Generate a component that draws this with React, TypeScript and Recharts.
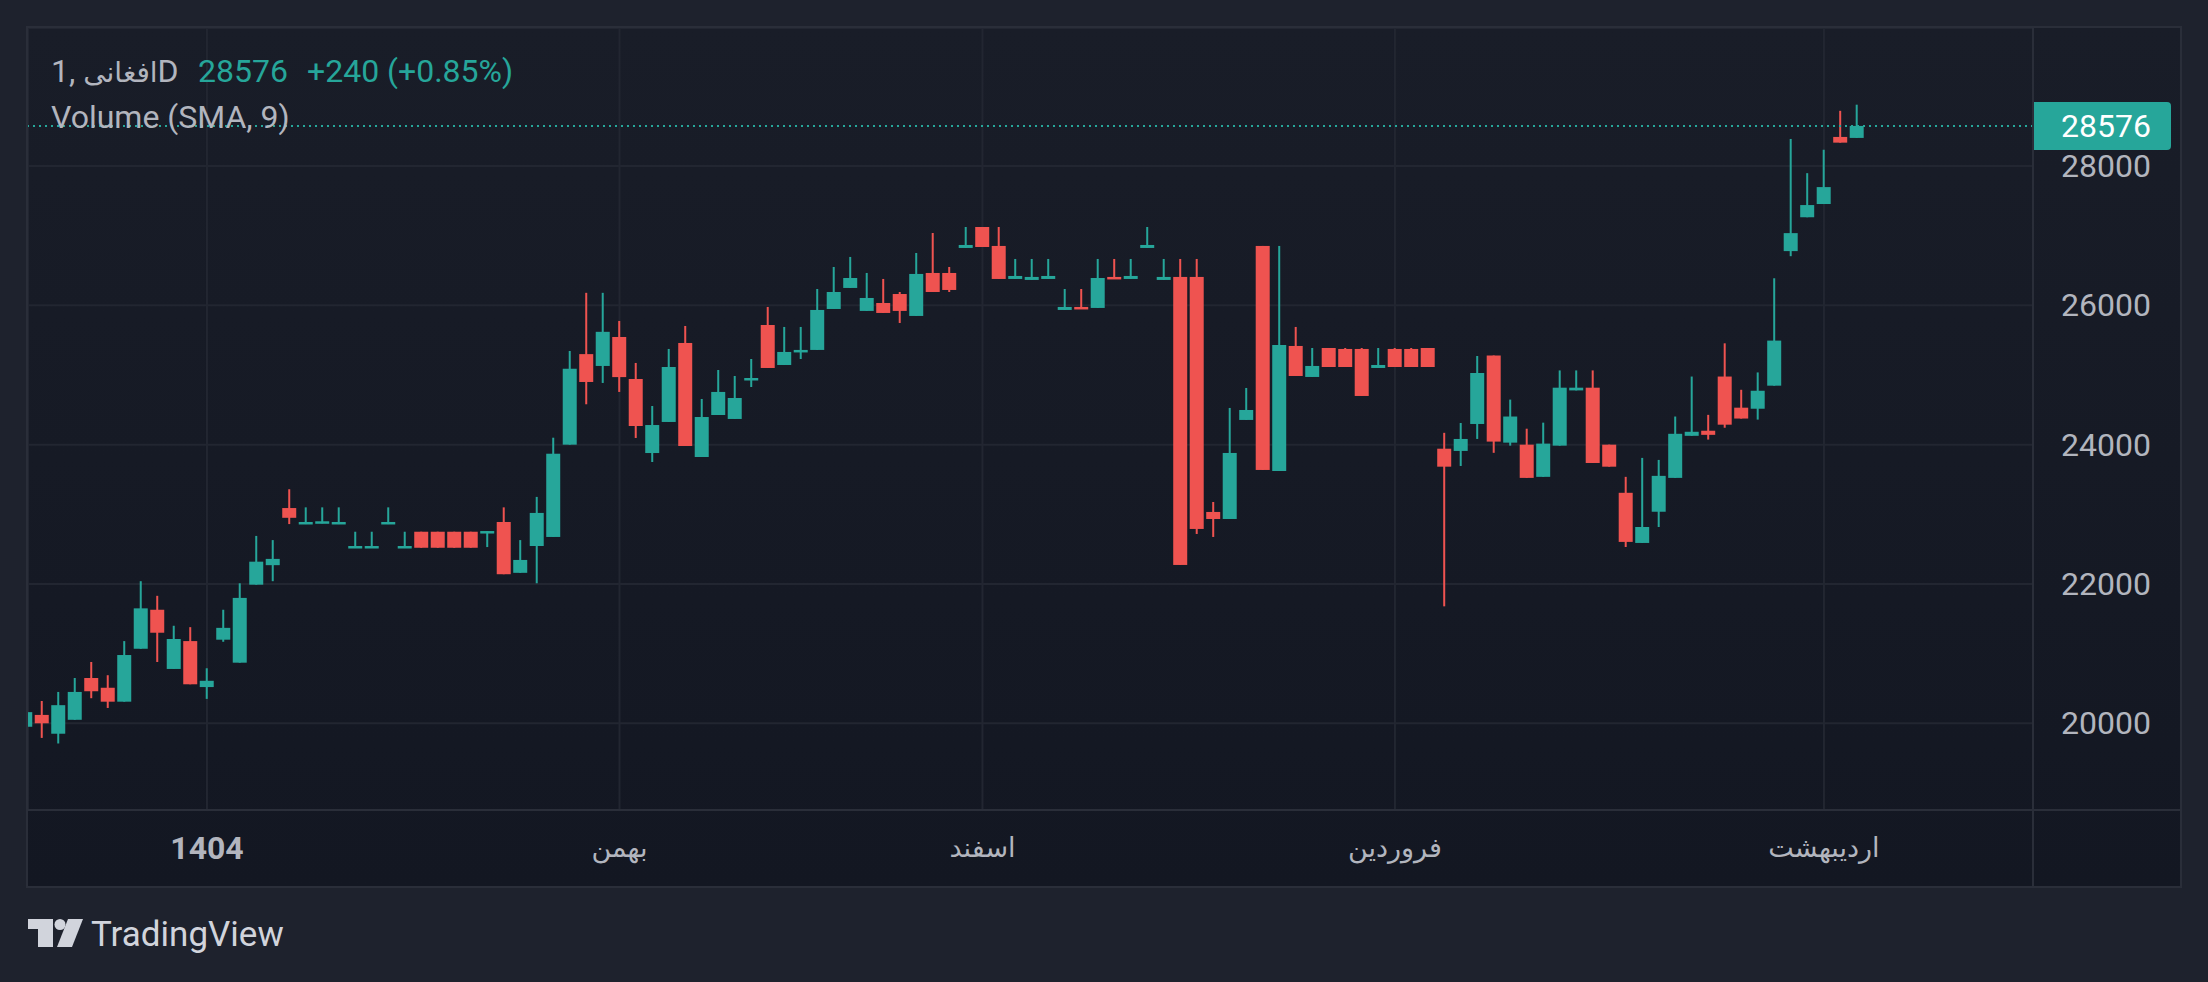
import React from "react";
import {
  ComposedChart,
  Bar,
  XAxis,
  YAxis,
  CartesianGrid,
  ReferenceLine,
} from "recharts";

// daily candles
const opens = [
  19950, 20120, 19850, 20050, 20650, 20510, 20310, 21070, 21630, 20780,
  21180, 20520, 21200, 20870, 21990, 22270, 23090, 22860, 22870, 22860,
  22520, 22520, 22860, 22520, 22750, 22750, 22750, 22750, 22735, 22890,
  22160, 22545, 22675, 24000, 25300, 25130, 25546, 24943, 23880, 24326,
  25460, 23823, 24426, 24369, 24928, 25718, 25144, 25331, 25360, 25948,
  26250, 25920, 26034, 26163, 25848, 26465, 26465, 26824, 27125, 26853,
  26379, 26365, 26379, 25934, 25977, 25963, 26408, 26379, 26824, 26365,
  26408, 26408, 23034, 22933, 24355, 26853, 23622, 25417, 24972, 25388,
  25374, 25374, 25101, 25374, 25374, 25388, 23942, 23910, 24297, 25280,
  24029, 24000, 23538, 23986, 24779, 24818, 24000, 23309, 22589, 23037,
  23523, 24127, 24200, 24978, 24531, 24516, 24847, 26779, 27265, 27455,
  28418, 28404,
];
const highs = [
  20170, 20320, 20450, 20650, 20880, 20690, 21180, 22040, 21830, 21400,
  21380, 20790, 21630, 22010, 22690, 22630, 23360, 23100, 23100, 23100,
  22750, 22750, 23100, 22750, 22750, 22750, 22750, 22750, 22760, 23100,
  22630, 23250, 24100, 25345, 26180, 26180, 25776, 25173, 24555, 25374,
  25704, 24656, 25072, 24986, 25230, 25977, 25690, 25690, 26235, 26551,
  26695, 26465, 26379, 26192, 26752, 27039, 26551, 27125, 27125, 27125,
  26666, 26666, 26666, 26235, 26235, 26666, 26666, 26666, 27125, 26666,
  26666, 26666, 23177, 24527, 24814, 26853, 26853, 25690, 25388, 25388,
  25388, 25388, 25388, 25388, 25388, 25388, 24170, 24311, 25273, 25280,
  24647, 24229, 24316, 25066, 25066, 25066, 24000, 23538, 23810, 23781,
  24404, 24978, 24428, 25455, 24788, 25037, 26389, 28389, 27898, 28234,
  28793, 28881,
];
const lows = [
  19940, 19790, 19710, 20050, 20360, 20220, 20310, 21070, 20880, 20780,
  20560, 20350, 21170, 20870, 21990, 22040, 22860, 22860, 22870, 22860,
  22520, 22520, 22860, 22520, 22520, 22520, 22520, 22520, 22530, 22140,
  22160, 22010, 22675, 24000, 24580, 24886, 24757, 24096, 23751, 24326,
  23981, 23823, 24426, 24369, 24828, 25101, 25144, 25230, 25360, 25948,
  26250, 25920, 25891, 25747, 25848, 26192, 26192, 26824, 26838, 26379,
  26379, 26365, 26379, 25934, 25950, 25963, 26380, 26379, 26824, 26365,
  22273, 22718, 22675, 22933, 24355, 23637, 23622, 24986, 24972, 25115,
  25115, 24699, 25101, 25115, 25115, 25115, 21679, 23694, 24082, 23883,
  23986, 23523, 23538, 23986, 24779, 23737, 23684, 22531, 22589, 22818,
  23523, 24127, 24073, 24243, 24375, 24360, 24847, 26706, 27265, 27455,
  28336, 28404,
];
const closes = [
  20160, 20000, 20260, 20450, 20460, 20310, 20980, 21650, 21300, 21210,
  20560, 20610, 21370, 21800, 22320, 22360, 22950, 22890, 22900, 22890,
  22545, 22545, 22890, 22545, 22520, 22520, 22520, 22520, 22760, 22140,
  22345, 23020, 23870, 25090, 24900, 25620, 24970, 24268, 24282, 25115,
  23981, 24397, 24757, 24670, 24957, 25101, 25331, 25360, 25934, 26192,
  26393, 26106, 25891, 25920, 26451, 26192, 26221, 26867, 26838, 26379,
  26422, 26408, 26422, 25977, 25950, 26393, 26380, 26422, 26867, 26408,
  22273, 22790, 22933, 23881, 24498, 23637, 25431, 24986, 25130, 25115,
  25115, 24699, 25144, 25115, 25115, 25115, 23684, 24082, 25029, 24044,
  24404, 23523, 24015, 24818, 24818, 23737, 23684, 22604, 22818, 23552,
  24156, 24185, 24141, 24287, 24375, 24774, 25494, 27037, 27440, 27698,
  28336, 28576,
];

const monthTicks = [11, 36, 58, 83, 109];
const monthLabels = ["1404", "بهمن", "اسفند", "فروردین", "اردیبهشت"];
const priceTicks = [20000, 22000, 24000, 26000, 28000];
const lastPrice = 28576;
const change = "+240 (+0.85%)";

const UP = "#26a69a";
const DOWN = "#ef5350";
const TEXT = "#b2b5be";
const GRID = "#222631";
const LINE = "#2a2e39";
const FONT = "Roboto, 'DejaVu Sans', sans-serif";

const data = opens.map((o, i) => ({
  i,
  open: o,
  high: highs[i],
  low: lows[i],
  close: closes[i],
}));

const Candle = (props: any) => {
  const { x, y, width, height, payload } = props;
  if (!payload) return null;
  const { open, close, high, low } = payload;
  const top = Math.min(y, y + height);
  const h = Math.abs(height);
  const ppu = h / (high - low);
  const cx = x + width / 2;
  const color = close >= open ? UP : DOWN;
  const bodyTop = top + (high - Math.max(open, close)) * ppu;
  const bodyH = Math.max(Math.abs(open - close) * ppu, 2.5);
  return (
    <g>
      <rect x={cx - 1} y={top} width={2} height={h} fill={color} />
      <rect x={cx - 7} y={bodyTop} width={14} height={bodyH} fill={color} />
    </g>
  );
};

const TimeTick = (props: any) => {
  const { x, y, payload } = props;
  const k = monthTicks.indexOf(payload.value);
  return (
    <text
      x={x}
      y={y + 38}
      textAnchor="middle"
      dominantBaseline="central"
      fill={TEXT}
      fontSize={k === 0 ? 32 : 27}
      fontWeight={k === 0 ? 700 : 400}
      fontFamily={FONT}
    >
      {monthLabels[k]}
    </text>
  );
};

const PriceTick = (props: any) => {
  const { x, y, payload } = props;
  return (
    <text
      x={x + 28}
      y={y}
      textAnchor="start"
      dominantBaseline="central"
      fill={TEXT}
      fontSize={32}
      fontFamily={FONT}
    >
      {payload.value}
    </text>
  );
};

const PriceTag = (props: any) => {
  const vb = props.viewBox || {};
  const left = vb.x + vb.width;
  const cy = vb.y;
  const r = 4;
  const w = 138;
  const d = `M${left},${cy - 24} H${left + w - r} Q${left + w},${cy - 24} ${left + w},${cy - 24 + r} V${cy + 24 - r} Q${left + w},${cy + 24} ${left + w - r},${cy + 24} H${left} Z`;
  return (
    <g>
      <path d={d} fill={UP} />
      <text
        x={left + 28}
        y={cy}
        dominantBaseline="central"
        fill="#ffffff"
        fontSize={32}
        fontFamily={FONT}
      >
        {lastPrice}
      </text>
    </g>
  );
};

const App = () => {
  return (
    <div
      style={{
        position: "absolute",
        left: 0,
        top: 0,
        width: 2208,
        height: 982,
        background: "#1e222d",
        overflow: "hidden",
        fontFamily: FONT,
      }}
    >
      <div
        style={{
          position: "absolute",
          left: 26,
          top: 26,
          width: 2156,
          height: 862,
          boxSizing: "border-box",
          border: `2px solid ${LINE}`,
          background: "linear-gradient(#191d28, #131722)",
        }}
      >
        <ComposedChart
          width={2152}
          height={858}
          data={data}
          margin={{ top: 0, right: 0, bottom: 0, left: 0 }}
        >
          <CartesianGrid stroke={GRID} strokeWidth={2} />
          <XAxis
            dataKey="i"
            type="number"
            domain={[0.152, 121.67]}
            allowDataOverflow
            ticks={monthTicks}
            interval={0}
            height={76}
            tickLine={false}
            axisLine={false}
            tickSize={0}
            tickMargin={0}
            tick={<TimeTick />}
          />
          <YAxis
            orientation="right"
            type="number"
            domain={[18755, 29982]}
            allowDataOverflow
            ticks={priceTicks}
            interval={0}
            width={147}
            tickLine={false}
            axisLine={false}
            tickSize={0}
            tickMargin={0}
            tick={<PriceTick />}
          />
          <Bar
            dataKey={(d: any) => [d.low, d.high]}
            barSize={14}
            shape={(p: any) => <Candle {...p} />}
            isAnimationActive={false}
          />
          <ReferenceLine
            y={lastPrice}
            stroke={UP}
            strokeWidth={2}
            strokeDasharray="2 4"
            ifOverflow="visible"
            label={(p: any) => <PriceTag {...p} />}
          />
        </ComposedChart>
        <div
          style={{
            position: "absolute",
            left: 0,
            top: 781,
            width: 2152,
            height: 2,
            background: LINE,
          }}
        />
        <div
          style={{
            position: "absolute",
            left: 2004,
            top: 0,
            width: 2,
            height: 858,
            background: LINE,
          }}
        />
      </div>

      <div
        style={{
          position: "absolute",
          left: 51,
          top: 55,
          fontSize: 32,
          lineHeight: "32px",
          color: TEXT,
          whiteSpace: "nowrap",
        }}
      >
        <span style={{ display: "inline-block" }}>1,&nbsp;</span>
        <span style={{ display: "inline-block", fontSize: 28 }} dir="rtl">
          افغانی
        </span>
        <span style={{ display: "inline-block" }}>D</span>
      </div>
      <div
        style={{
          position: "absolute",
          left: 198,
          top: 55,
          fontSize: 32,
          lineHeight: "32px",
          color: UP,
          whiteSpace: "nowrap",
        }}
      >
        {lastPrice}
      </div>
      <div
        style={{
          position: "absolute",
          left: 307,
          top: 55,
          fontSize: 32,
          lineHeight: "32px",
          color: UP,
          whiteSpace: "nowrap",
        }}
      >
        {change}
      </div>
      <div
        style={{
          position: "absolute",
          left: 51,
          top: 101,
          fontSize: 32,
          lineHeight: "32px",
          color: TEXT,
          whiteSpace: "nowrap",
        }}
      >
        Volume (SMA, 9)
      </div>

      <svg
        style={{ position: "absolute", left: 28, top: 919 }}
        width={56}
        height={29}
      >
        <rect x={0} y={0} width={25} height={10} fill="#d1d4dc" />
        <rect x={10} y={0} width={15} height={28} fill="#d1d4dc" />
        <circle cx={32} cy={5.5} r={5.5} fill="#d1d4dc" />
        <polygon points="40,0 55,0 44,28 29,28" fill="#d1d4dc" />
      </svg>
      <div
        style={{
          position: "absolute",
          left: 91,
          top: 917,
          fontSize: 35,
          lineHeight: "35px",
          color: "#d1d4dc",
          whiteSpace: "nowrap",
        }}
      >
        TradingView
      </div>
    </div>
  );
};

export default App;
